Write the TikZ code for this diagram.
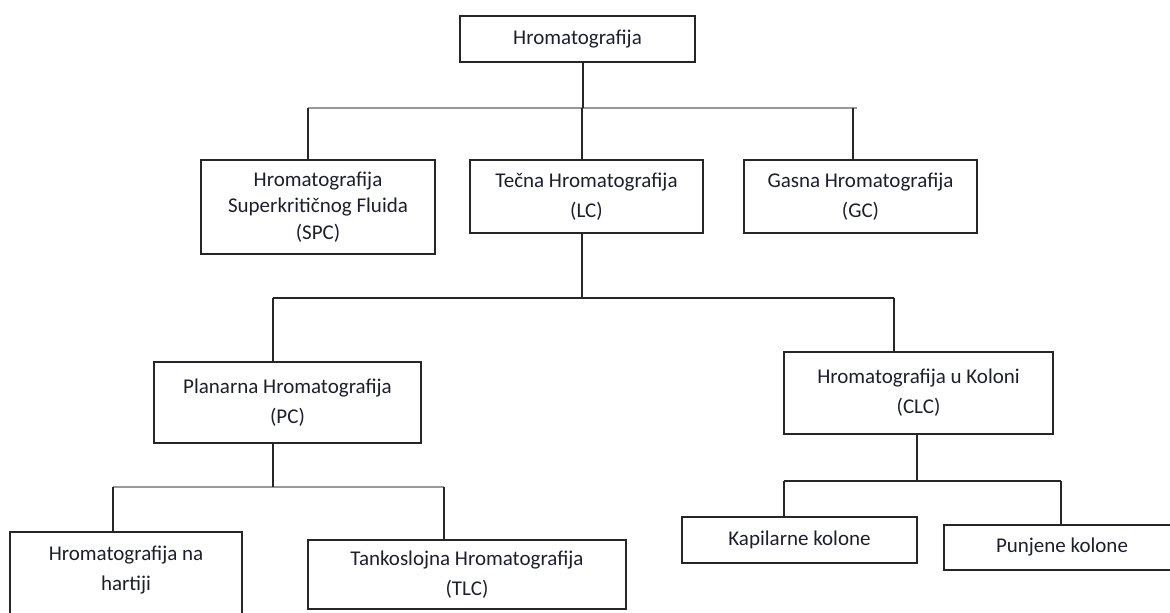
\documentclass[tikz,border=0pt]{standalone}
\usepackage{fontspec}
\setmainfont{Carlito}
\definecolor{textcol}{RGB}{30,30,50}
\begin{document}
\begin{tikzpicture}[x=1pt,y=-1pt,
  box/.style={draw=black!85,line width=1.5pt,align=center,inner sep=0pt,
    font=\fontsize{21}{30}\selectfont,text=textcol},
  link/.style={line width=1.2pt,black!85},
  bus/.style={line width=1.2pt,black!40}]
  \useasboundingbox[fill=white] (0,0) rectangle (1170,613);
  % boxes
  \node[box,minimum width=235,minimum height=46] (hrom) at (577.5,39) {Hromatografija};
  \node[box,minimum width=234,minimum height=94,font=\fontsize{21}{26.5}\selectfont] (spc) at (318,207) {Hromatografija\\Superkritičnog Fluida\\(SPC)};
  \node[box,minimum width=233,minimum height=73] (lc) at (586.5,196.5) {Tečna Hromatografija\\(LC)};
  \node[box,minimum width=233,minimum height=73] (gc) at (860.5,196.5) {Gasna Hromatografija\\(GC)};
  \node[box,minimum width=267,minimum height=81] (pc) at (287.5,402.5) {Planarna Hromatografija\\(PC)};
  \node[box,minimum width=269,minimum height=82] (clc) at (918.5,393) {Hromatografija u Koloni\\(CLC)};
  \node[box,minimum width=232,minimum height=102] (hart) at (126,583) {Hromatografija na\\hartiji\\\mbox{}};
  \node[box,minimum width=318,minimum height=69] (tlc) at (467,574.5) {Tankoslojna Hromatografija\\(TLC)};
  \node[box,minimum width=235,minimum height=46] (kap) at (799.5,540) {Kapilarne kolone};
  \node[box,minimum width=236,minimum height=45] (pun) at (1062,547.5) {Punjene kolone};
  % bus lines
  \coordinate (bus1l) at (308,108);
  \coordinate (bus1r) at (857,108);
  \coordinate (bus2l) at (273,298);
  \coordinate (bus2r) at (894,298);
  \coordinate (bus3l) at (113,487);
  \coordinate (bus3r) at (444,487);
  \coordinate (bus4l) at (784,481);
  \coordinate (bus4r) at (1061,481);
  \draw[bus] (bus1l) -- (bus1r);
  \draw[link] (bus2l) -- (bus2r);
  \draw[bus] (bus3l) -- (bus3r);
  \draw[link] (bus4l) -- (bus4r);
  % level 1
  \draw[link] ([xshift=5.5]hrom.south) -- ([xshift=5.5]hrom.south |- bus1l);
  \draw[link] (bus1l) -- (bus1l |- spc.north);
  \draw[link] ([xshift=-4.5]lc.north) -- ([xshift=-4.5]lc.north |- bus1l);
  \draw[link] ([xshift=-7.5]gc.north) -- ([xshift=-7.5]gc.north |- bus1r);
  % level 2
  \draw[link] ([xshift=-4.5]lc.south) -- ([xshift=-4.5]lc.south |- bus2l);
  \draw[link] (bus2l) -- (bus2l |- pc.north);
  \draw[link] (bus2r) -- (bus2r |- clc.north);
  % level 3
  \draw[link] (bus2l |- pc.south) -- (bus2l |- bus3l);
  \draw[link] (bus3l) -- (bus3l |- hart.north);
  \draw[link] (bus3r) -- (bus3r |- tlc.north);
  \draw[link] ([xshift=-1.5]clc.south) -- ([xshift=-1.5]clc.south |- bus4l);
  \draw[link] (bus4l) -- (bus4l |- kap.north);
  \draw[link] (bus4r) -- (bus4r |- pun.north);
\end{tikzpicture}
\end{document}
